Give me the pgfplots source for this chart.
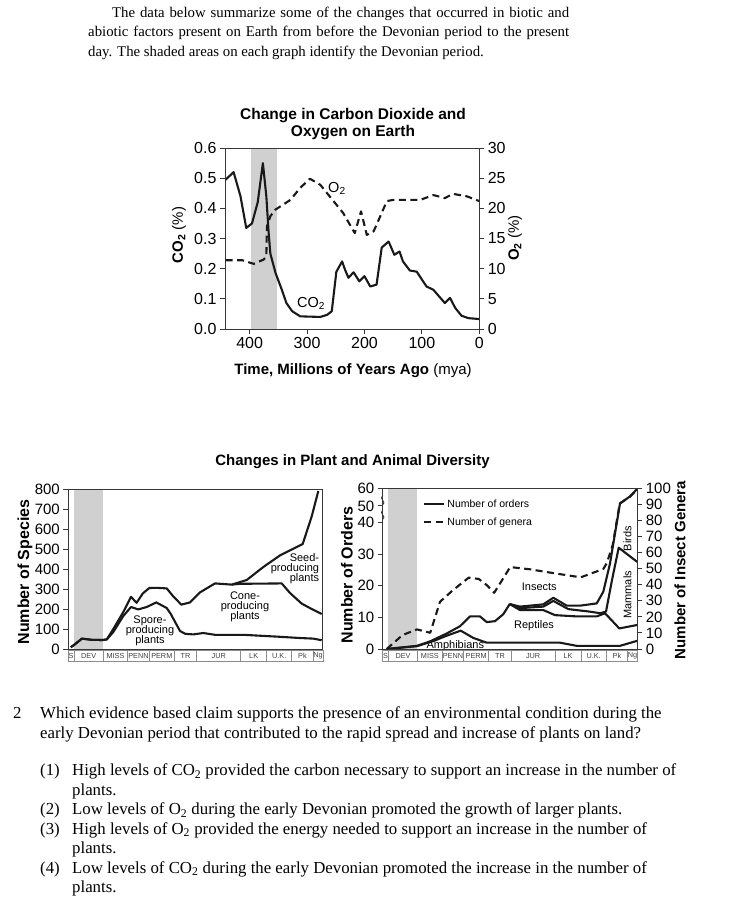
\documentclass[border=0pt]{standalone}
\usepackage{fontspec}
\setmainfont{Liberation Serif}
\setsansfont{Liberation Sans}
\usepackage{pgfplots}
\pgfplotsset{compat=1.18}

\definecolor{devgray}{RGB}{208,208,208}
\definecolor{ink}{RGB}{25,25,25}
\definecolor{frame}{RGB}{55,55,55}

\newcommand\sfsize[1]{\sffamily\fontsize{#1bp}{#1bp}\selectfont}
\newcommand\pfont{\rmfamily\fontsize{14.8bp}{19.5bp}\selectfont}
\newcommand\qfont{\rmfamily\fontsize{16.8bp}{19.5bp}\selectfont}

\pgfplotsset{
  chart/.style={
    scale only axis, axis on top, clip=false, anchor=south west,
    tick align=outside, major tick length=5bp,
    axis line style={line width=0.9bp, frame},
    tick style={line width=0.9bp, frame},
    /pgf/number format/assume math mode=true,
  },
  curve/.style={ink, line width=2.1bp, line join=round},
  dashcurve/.style={curve, dash pattern=on 7bp off 4.5bp},
}

% geological period strip under the diversity charts
\newcommand\periodband[1]{%
  \begin{scope}[shift={(#1.south west)}]
    \draw[black!45, line width=0.6bp] (0,-1.2) rectangle (254.5,-12);
    \foreach \a/\b/\t in {0/5.7/S,5.7/35/DEV,35/59.4/MISS,59.4/81/PENN,81/106/PERM,106/128.4/TR,128.4/172.4/JUR,172.4/198.4/LK,198.4/223.4/U.K.,223.4/245/Pk,245/254.5/Ng}{%
      \draw[black!45, line width=0.6bp] (\b,-1.2) -- (\b,-12);
      \node[font=\sfsize{7.3}, text=black!75, inner sep=0] at ({(\a+\b)/2},-6.6) {\t};
    }
  \end{scope}}

\begin{document}
\begin{tikzpicture}[x=1bp, y=1bp]
\useasboundingbox (0,0) rectangle (730,-919);

% intro paragraph
\node[anchor=base west, inner sep=0, font=\pfont] at (112,-17.3)
  {\makebox[457bp][s]{The data below summarize some of the changes that occurred in biotic and}};
\node[anchor=base west, inner sep=0, font=\pfont] at (88,-36.9)
  {\makebox[481bp][s]{abiotic factors present on Earth from before the Devonian period to the present}};
\node[anchor=base west, inner sep=0, font=\pfont] at (88,-56.5)
  {day. The shaded areas on each graph identify the Devonian period.};

% ---------- CO2 / O2 chart ----------
\node[anchor=base, font=\bfseries\sfsize{15.5}] at (353,-119.3) {Change in Carbon Dioxide and};
\node[anchor=base, font=\bfseries\sfsize{15.5}] at (353,-136.7) {Oxygen on Earth};

\begin{axis}[chart, name=co2, at={(225bp,-329bp)},
  width=254.3bp, height=181bp,
  x dir=reverse, xmin=0, xmax=443, ymin=0, ymax=0.6,
  xtick={0,100,200,300,400}, ytick={0,0.1,0.2,0.3,0.4,0.5,0.6},
  tick pos=left,
  tick label style={font=\sfsize{16}},
  yticklabel style={/pgf/number format/fixed, /pgf/number format/fixed zerofill,
    /pgf/number format/precision=1},
  ]
  \fill[devgray] (axis cs:398,0) rectangle (axis cs:353,0.6);
  \addplot[curve] coordinates {
    (442,0.495) (428,0.52) (416,0.44) (406,0.335) (396,0.35) (386,0.42)
    (377,0.55) (371,0.44) (367,0.32) (364,0.25) (355,0.186) (344,0.13)
    (336,0.086) (326,0.059) (312,0.042) (277,0.04) (265,0.047) (257,0.059)
    (249,0.19) (239,0.224) (234,0.197) (228,0.17) (219,0.188) (209,0.158)
    (200,0.175) (190,0.141) (179,0.147) (170,0.27) (158,0.29) (148,0.246)
    (139,0.257) (133,0.224) (121,0.194) (109,0.19) (92,0.141) (80,0.13)
    (60,0.086) (51,0.103) (42,0.07) (31,0.044) (19,0.036) (0,0.033)
  };
  \node[font=\sfsize{14.5}] at (axis cs:293,0.085) {CO\textsubscript{2}};
  \node[font=\sfsize{14.5}] at (axis cs:248,0.467) {O\textsubscript{2}};
\end{axis}

\begin{axis}[chart, at={(225bp,-329bp)},
  width=254.3bp, height=181bp,
  x dir=reverse, xmin=0, xmax=443, ymin=0, ymax=30,
  axis x line=none, axis y line*=right,
  ytick={0,5,10,15,20,25,30},
  tick label style={font=\sfsize{16}},
  ]
  \addplot[dashcurve] coordinates {
    (442,11.4) (413,11.4) (393,10.8) (376,11.5) (371,12) (370,17) (364,18.7)
    (355,19.8) (329,21.4) (312,23.4) (295,24.9) (277,23.9) (254,21.2)
    (237,19.2) (217,15.9) (206,19.5) (196,15.6) (184,16.2) (161,21.2)
    (150,21.4) (103,21.4) (80,22.2) (60,21.7) (46,22.4) (22,22) (0,21.2)
  };
\end{axis}

\node[rotate=90, font=\sfsize{15}] at (179,-235) {\textbf{CO\textsubscript{2}} (\%)};
\node[rotate=90, font=\sfsize{15}] at (515,-238) {\textbf{O\textsubscript{2}} (\%)};
\node[anchor=base, font=\sfsize{15}] at (353,-374) {\textbf{Time, Millions of Years Ago} (mya)};

% ---------- diversity charts ----------
\node[anchor=base, font=\bfseries\sfsize{15}] at (352.5,-465) {Changes in Plant and Animal Diversity};

\begin{axis}[chart, name=bl, at={(68.3bp,-649bp)},
  width=254.5bp, height=160bp,
  xmin=0, xmax=254.5, ymin=0, ymax=800,
  xtick=\empty, ytick={0,100,...,800}, tick pos=left,
  tick label style={font=\sfsize{15}},
  ]
  \fill[devgray] (axis cs:5.7,0) rectangle (axis cs:34.4,800);
  \addplot[curve] coordinates {
    (2.5,9) (5.7,20) (13.6,52) (23.4,46) (34.4,45) (38.5,48) (45,100) (55,185)
    (62.7,261) (68.3,231) (74.5,278) (81,305) (88.4,306) (98.4,303) (105,263)
    (113,222) (121.7,233) (131.7,283) (146.7,328) (163.4,322) (178.4,345)
    (195,410) (211.7,468) (234.4,525) (243.4,663) (250,790)
  };
  \addplot[curve] coordinates {
    (2.5,9) (5.7,20) (13.6,52) (23.4,46) (34.4,45) (38.5,48) (45,85) (55,165)
    (62.7,210) (70,198) (78.4,210) (88,233) (98.4,205) (102.5,175) (111.7,90)
    (117,76) (125,73) (135,80) (146.7,71) (175,71) (208.4,62) (231.7,55)
    (245,52) (253.4,44)
  };
  \addplot[curve] coordinates {
    (163.4,322) (171.7,326) (213.4,328) (221.7,280) (233.4,227) (243.4,200)
    (253.4,175)
  };
  \node[font=\sfsize{11}, align=center, inner sep=0] at (axis cs:81.7,92)
    {Spore-\\[-1bp]producing\\[-1bp]plants};
  \node[font=\sfsize{11}, align=center, inner sep=0] at (axis cs:176.7,213)
    {Cone-\\[-1bp]producing\\[-1bp]plants};
  \node[font=\sfsize{11}, align=right, inner sep=0, anchor=east] at (axis cs:251,400)
    {Seed-\\[-1bp]producing\\[-1bp]plants};
\end{axis}
\periodband{bl}
\node[rotate=90, font=\bfseries\sfsize{16}] at (25,-572) {Number of Species};

\begin{axis}[chart, name=br, at={(382.7bp,-649bp)},
  width=254.6bp, height=160.7bp,
  xmin=0, xmax=254.6, ymin=0, ymax=50.76,
  xtick=\empty, ytick={0,10,20,30,40,45.2,50.76},
  yticklabels={0,10,20,30,40,50,60}, tick pos=left,
  tick label style={font=\sfsize{15}},
  legend style={draw=none, fill=none, at={(0.155,0.95)}, anchor=north west,
    font=\sfsize{10.5}, row sep=5bp, inner sep=1bp},
  legend cell align=left,
  legend image code/.code={\draw[#1] (0bp,0bp) -- (20bp,0bp);},
  ]
  \fill[devgray] (axis cs:5.7,0) rectangle (axis cs:34.4,50.76);
  \node[font=\sfsize{11}] at (axis cs:72.6,1.0) {Amphibians};
  % amphibians
  \addplot[curve, forget plot] coordinates {
    (4,0) (34.3,0.9) (50.6,2.5) (64,4.2) (78,5.8) (90.6,3.5) (104,2)
    (130.6,2) (177.3,2) (194,1) (237.3,1) (254.6,2.6)
  };
  % reptiles
  \addplot[curve, forget plot] coordinates {
    (4,0) (34.3,1) (47.3,2.4) (64,4.9) (77.3,7.2) (87.3,10.3) (97.3,10.3)
    (104,8.5) (112.3,8.8) (120.6,11) (127,14.2) (137.3,12.3) (160.6,12.3)
    (172.3,10.7) (194,10.3) (214,10.3) (222.3,11.3) (236.6,6.5) (254.6,7.6)
  };
  % mammals
  \addplot[curve, forget plot] coordinates {
    (127,14.2) (137.3,12.9) (160.6,13.4) (170.6,15.2) (185.6,12.6)
    (207.3,11.8) (217.3,11.3) (223.3,11.8) (229.3,21.8) (236,32) (254.6,27.5)
  };
  % birds
  \addplot[curve, forget plot] coordinates {
    (127,14.2) (137.3,13.4) (160.6,14.1) (170.6,16.2) (184,13.7) (197.3,13.7)
    (214,14.4) (220.6,18.1) (227.3,27) (237.3,46) (247.3,48.2) (254.6,50.6)
  };
  \addlegendimage{curve}
  \addlegendentry{Number of orders}
  \addlegendimage{dashcurve}
  \addlegendentry{Number of genera}
  \node[font=\sfsize{11}] at (axis cs:156.6,19.6) {Insects};
  \node[font=\sfsize{11}] at (axis cs:151.3,7.3) {Reptiles};
  \node[font=\sfsize{11}, rotate=90] at (axis cs:244.8,17.1) {Mammals};
  \node[font=\sfsize{11}, rotate=90] at (axis cs:244.8,34.9) {Birds};
\end{axis}

\begin{axis}[chart, at={(382.7bp,-649bp)},
  width=254.6bp, height=160.7bp,
  xmin=0, xmax=254.6, ymin=0, ymax=100,
  axis x line=none, axis y line*=right,
  ytick={0,10,...,100},
  tick label style={font=\sfsize{15}},
  ]
  \addplot[dashcurve] coordinates {
    (4,0) (17.3,7.3) (22.3,9.3) (34.3,12.2) (47.5,10.1) (57.3,29.4) (70,36.5)
    (86,44.4) (96,43.6) (104,39.8) (111.5,35) (127.5,51) (147.3,49.6)
    (172,47.1) (198,44.6) (220.6,49.8) (224,53.3) (230,64.7) (237,90.5)
    (247.3,94.8) (254.6,99.3)
  };
\end{axis}
\periodband{br}

% axis break marks
\draw[frame, line width=0.9bp] (382.7,-495.5) .. controls (378.5,-498.5) and (387,-502) .. (382.7,-505);
\draw[frame, line width=0.9bp] (382.7,-510) .. controls (378.5,-513) and (387,-516.5) .. (382.7,-519.5);

\node[rotate=90, font=\bfseries\sfsize{16}] at (347,-575) {Number of Orders};
\node[rotate=90, font=\bfseries\sfsize{15}] at (680,-570) {Number of Insect Genera};

% ---------- question ----------
\node[anchor=base west, inner sep=0, font=\qfont] at (13,-718.5) {2};
\node[anchor=base west, inner sep=0, font=\qfont] at (40,-718.5)
  {Which evidence based claim supports the presence of an environmental condition during the};
\node[anchor=base west, inner sep=0, font=\qfont] at (40,-738)
  {early Devonian period that contributed to the rapid spread and increase of plants on land?};

\node[anchor=base west, inner sep=0, font=\qfont] at (40,-775.5) {(1)};
\node[anchor=base west, inner sep=0, font=\qfont] at (72,-775.5)
  {High levels of CO\textsubscript{2} provided the carbon necessary to support an increase in the number of};
\node[anchor=base west, inner sep=0, font=\qfont] at (72,-795) {plants.};
\node[anchor=base west, inner sep=0, font=\qfont] at (40,-814.6) {(2)};
\node[anchor=base west, inner sep=0, font=\qfont] at (72,-814.6)
  {Low levels of O\textsubscript{2} during the early Devonian promoted the growth of larger plants.};
\node[anchor=base west, inner sep=0, font=\qfont] at (40,-834.1) {(3)};
\node[anchor=base west, inner sep=0, font=\qfont] at (72,-834.1)
  {High levels of O\textsubscript{2} provided the energy needed to support an increase in the number of};
\node[anchor=base west, inner sep=0, font=\qfont] at (72,-853.7) {plants.};
\node[anchor=base west, inner sep=0, font=\qfont] at (40,-873.2) {(4)};
\node[anchor=base west, inner sep=0, font=\qfont] at (72,-873.2)
  {Low levels of CO\textsubscript{2} during the early Devonian promoted the increase in the number of};
\node[anchor=base west, inner sep=0, font=\qfont] at (72,-892.7) {plants.};
\end{tikzpicture}
\end{document}
